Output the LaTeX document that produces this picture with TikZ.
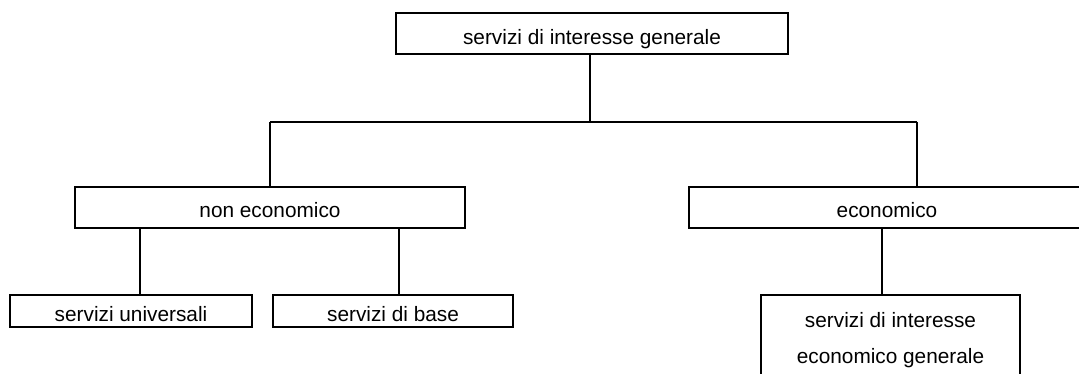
\documentclass[tikz,border=0pt]{standalone}
\usepackage{fontspec}
\setmainfont{Liberation Sans}
\begin{document}
\begin{tikzpicture}[x=1pt,y=-1pt,
  box/.style={draw,line width=1.5pt,rectangle,inner sep=0pt,align=center,
    font=\fontsize{20.8}{36}\selectfont},
  onebox/.style={box,text height=22pt,text depth=2pt},
  link/.style={line width=1.5pt}]
\useasboundingbox (0,0) rectangle (1079,374);
\clip (0,0) rectangle (1079,374);
% boxes
\node[box,text height=25pt,text depth=2pt,minimum width=392pt,minimum height=41pt] (top) at (592,33.5) {servizi di interesse generale};
\node[onebox,minimum width=390pt,minimum height=41pt] (nonec) at (270,207.5) {non economico};
\node[onebox,minimum width=396pt,minimum height=41pt] (econ) at (887,207.5) {economico};
\node[onebox,minimum width=242pt,minimum height=32pt] (su) at (131,311) {servizi universali};
\node[onebox,minimum width=240pt,minimum height=32pt] (sb) at (393,311) {servizi di base};
\node[box,minimum width=259pt,minimum height=86pt] (sieg) at (890.5,338) {\rule{0pt}{20pt}servizi di interesse\\economico generale};
% connectors
\coordinate (busL) at (270,122);
\coordinate (busR) at (917,122);
\coordinate (xt) at (590,0);
\coordinate (xa) at (140,0);
\coordinate (xb) at (399,0);
\coordinate (xe) at (882,0);
\draw[link] (xt |- top.south) -- (xt |- busL);
\draw[link] (busL) -- (busR);
\draw[link] (busL) -- (busL |- nonec.north);
\draw[link] (busR) -- (busR |- econ.north);
\draw[link] (xa |- nonec.south) -- (xa |- su.north);
\draw[link] (xb |- nonec.south) -- (xb |- sb.north);
\draw[link] (xe |- econ.south) -- (xe |- sieg.north);
\end{tikzpicture}
\end{document}
